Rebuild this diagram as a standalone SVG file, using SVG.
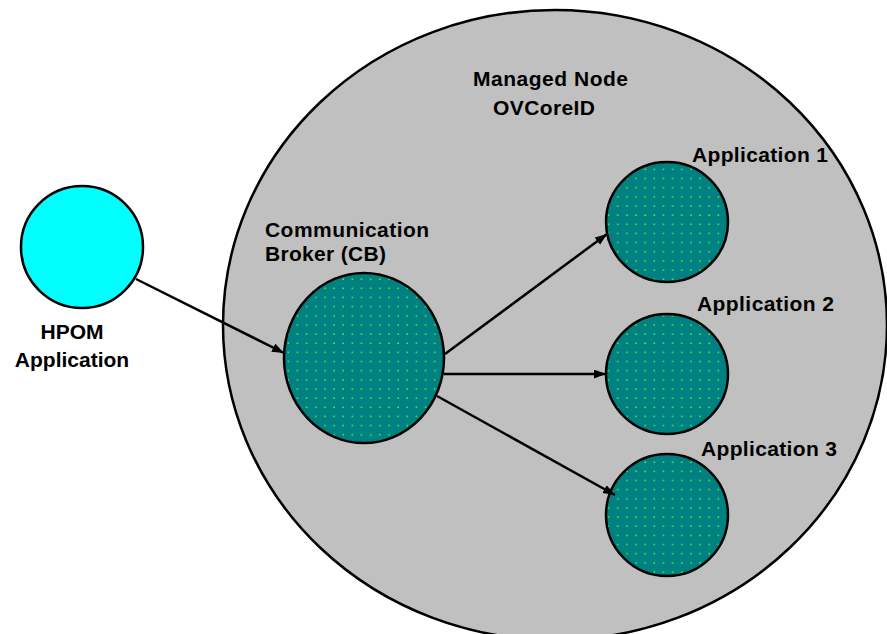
<svg xmlns="http://www.w3.org/2000/svg" width="887" height="634" viewBox="0 0 887 634">
  <defs>
    <pattern id="dots" patternUnits="userSpaceOnUse" width="9.15" height="9.15">
      <rect width="9.15" height="9.15" fill="#008080"/>
      <rect x="4" y="4" width="1.5" height="1.5" fill="#3cff3c"/>
    </pattern>
    <marker id="arrow" markerUnits="userSpaceOnUse" markerWidth="13" markerHeight="10" refX="12" refY="4.5" orient="auto">
      <path d="M0,0 L12,4.5 L0,9 z" fill="#000"/>
    </marker>
  </defs>
  <style>
    .lbl { font-family: "Liberation Sans", Arial, sans-serif; font-weight: bold; font-size: 21px; fill: #000; }
    .app { fill: url(#dots); stroke: #000; stroke-width: 2.5; }
    .conn line { stroke: #000; stroke-width: 2.5; marker-end: url(#arrow); }
  </style>
  <rect width="887" height="634" fill="#fff"/>

  <g id="managed-node">
    <ellipse cx="555" cy="325" rx="332" ry="315" fill="#c0c0c0" stroke="#000" stroke-width="2.5"/>
    <text class="lbl" x="473" y="86" textLength="155">Managed Node</text>
    <text class="lbl" x="493" y="115" textLength="102">OVCoreID</text>
  </g>

  <g id="hpom">
    <circle cx="82" cy="247" r="61" fill="#00ffff" stroke="#000" stroke-width="2.5"/>
    <text class="lbl" x="72" y="339" text-anchor="middle">HPOM</text>
    <text class="lbl" x="72" y="367" text-anchor="middle">Application</text>
  </g>

  <g id="cb">
    <ellipse class="app" cx="364" cy="358" rx="80" ry="85"/>
    <text class="lbl" x="265" y="237" textLength="164">Communication</text>
    <text class="lbl" x="265" y="261" textLength="121">Broker (CB)</text>
  </g>

  <g id="app1">
    <ellipse class="app" cx="667" cy="222" rx="61" ry="60"/>
    <text class="lbl" x="692" y="162" textLength="136">Application 1</text>
  </g>

  <g id="app2">
    <ellipse class="app" cx="667" cy="374" rx="61" ry="60"/>
    <text class="lbl" x="697" y="311" textLength="137">Application 2</text>
  </g>

  <g id="app3">
    <ellipse class="app" cx="667" cy="515" rx="61" ry="61"/>
    <text class="lbl" x="701" y="456" textLength="136">Application 3</text>
  </g>

  <g id="connectors" class="conn">
    <line x1="136" y1="279" x2="284" y2="353"/>
    <line x1="445" y1="354" x2="607" y2="234"/>
    <line x1="444" y1="374" x2="606" y2="374"/>
    <line x1="437" y1="396" x2="615" y2="495"/>
  </g>
</svg>
